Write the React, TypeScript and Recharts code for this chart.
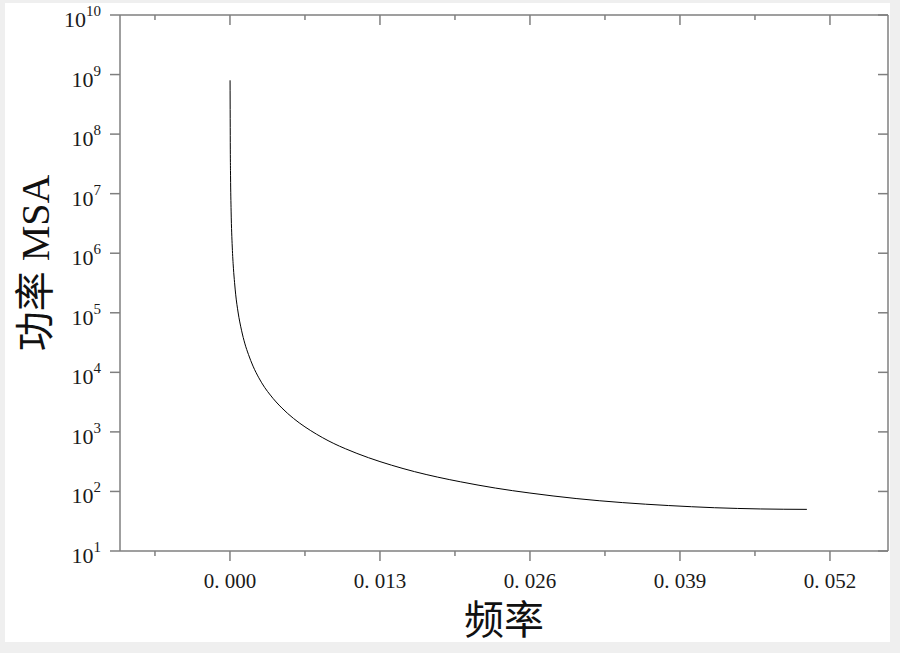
import React from "react";
import { LineChart, Line, XAxis, YAxis } from "recharts";

// frequency / MSA power
const freq = [
  0.00001, 0.00003, 0.00005, 0.0001, 0.0002, 0.0003, 0.0004, 0.0005, 0.0007, 0.001,
  0.0013, 0.0016, 0.002, 0.0025, 0.003, 0.0035, 0.004, 0.0045, 0.005, 0.006,
  0.007, 0.008, 0.009, 0.01, 0.012, 0.014, 0.016, 0.018, 0.02, 0.023,
  0.026, 0.03, 0.034, 0.038, 0.042, 0.046, 0.05,
];
const msa = [
  8.0e8, 5.6e7, 2.0e7, 5.1e6, 1.27e6, 5.6e5, 3.2e5, 2.0e5, 1.03e5, 5.1e4,
  3.0e4, 2.0e4, 1.27e4, 8.1e3, 5.6e3, 4.15e3, 3.18e3, 2.52e3, 2.04e3, 1.42e3,
  1050, 805, 638, 522, 369, 276, 215, 174, 145, 114,
  94, 76, 65, 58, 53.3, 50.8, 50,
];

const xMajorTicks = [0, 0.013, 0.026, 0.039, 0.052];
const xMinorTicks = [-0.0065, 0.0065, 0.0195, 0.0325, 0.0455];
const yTicks = [1e1, 1e2, 1e3, 1e4, 1e5, 1e6, 1e7, 1e8, 1e9, 1e10];
const xDomain = [-0.00953, 0.05703];
const yDomain = [1e1, 1e10];

const data = freq.map((f, i) => ({ f, msa: msa[i] }));
const xAllTicks = [...xMinorTicks, ...xMajorTicks].sort((a, b) => a - b);

const AXIS = "#7f7f7f";
const SERIF = "'Liberation Serif', 'Times New Roman', serif";

const isMajor = (v: number) => xMajorTicks.some((m) => Math.abs(m - v) < 1e-9);

const BottomTick = (props: any) => {
  const { x, y, payload } = props;
  const major = isMajor(payload.value);
  return (
    <g>
      <line x1={x} x2={x} y1={y} y2={y + (major ? 10 : 5)} stroke={AXIS} strokeWidth={1.5} />
      {major && (
        <text x={x} y={y + 37} textAnchor="middle" fontSize={21} fill="#1a1a1a" fontFamily={SERIF}>
          {payload.value.toFixed(3).replace(".", ". ")}
        </text>
      )}
    </g>
  );
};

const TopTick = (props: any) => {
  const { x, y, payload } = props;
  const major = isMajor(payload.value);
  return <line x1={x} x2={x} y1={y} y2={y + (major ? 10 : 5)} stroke={AXIS} strokeWidth={1.5} />;
};

const LeftTick = (props: any) => {
  const { x, y, payload } = props;
  const exp = Math.round(Math.log10(payload.value));
  return (
    <g>
      <line x1={x - 10} x2={x} y1={y} y2={y} stroke={AXIS} strokeWidth={1.5} />
      <text x={x - 19} y={y + 12} textAnchor="end" fontSize={22} fill="#1a1a1a" fontFamily={SERIF}>
        10
        <tspan fontSize={15} dy={-11}>{exp}</tspan>
      </text>
    </g>
  );
};

const RightTick = (props: any) => {
  const { x, y } = props;
  return <line x1={x - 10} x2={x} y1={y} y2={y} stroke={AXIS} strokeWidth={1.5} />;
};

export default function App() {
  return (
    <div style={{ position: "absolute", left: 0, top: 0, width: 900, height: 653, background: "#efefef" }}>
      <div style={{ position: "absolute", left: 5, top: 3, width: 885, height: 639, background: "#fff" }} />
      <div style={{ position: "absolute", left: 0, top: 0 }}>
        <LineChart width={900} height={653} data={data} margin={{ top: 14, right: 11, bottom: 101, left: 119 }}>
          <XAxis
            xAxisId="bottom"
            dataKey="f"
            type="number"
            domain={xDomain}
            allowDataOverflow
            ticks={xAllTicks}
            interval={0}
            height={1}
            tickSize={0}
            tickMargin={0}
            tickLine={false}
            axisLine={{ stroke: AXIS, strokeWidth: 1.5 }}
            tick={BottomTick}
          />
          <XAxis
            xAxisId="top"
            orientation="top"
            dataKey="f"
            type="number"
            domain={xDomain}
            allowDataOverflow
            ticks={xAllTicks}
            interval={0}
            height={1}
            tickSize={0}
            tickMargin={0}
            tickLine={false}
            axisLine={{ stroke: AXIS, strokeWidth: 1.5 }}
            tick={TopTick}
          />
          <YAxis
            yAxisId="left"
            scale="log"
            type="number"
            domain={yDomain}
            allowDataOverflow
            ticks={yTicks}
            interval={0}
            width={1}
            tickSize={0}
            tickMargin={0}
            tickLine={false}
            axisLine={{ stroke: AXIS, strokeWidth: 1.5 }}
            tick={LeftTick}
          />
          <YAxis
            yAxisId="right"
            orientation="right"
            scale="log"
            type="number"
            domain={yDomain}
            allowDataOverflow
            ticks={yTicks}
            interval={0}
            width={1}
            tickSize={0}
            tickMargin={0}
            tickLine={false}
            axisLine={{ stroke: AXIS, strokeWidth: 1.5 }}
            tick={RightTick}
          />
          <Line
            xAxisId="top"
            yAxisId="right"
            dataKey="msa"
            stroke="none"
            dot={false}
            activeDot={false}
            legendType="none"
            isAnimationActive={false}
          />
          <Line
            xAxisId="bottom"
            yAxisId="left"
            dataKey="msa"
            type="monotone"
            stroke="#000"
            strokeWidth={1}
            dot={false}
            isAnimationActive={false}
          />
        </LineChart>
      </div>
      <div
        style={{
          position: "absolute",
          left: 32,
          top: 263,
          transform: "translate(-50%, -50%) rotate(-90deg)",
          whiteSpace: "nowrap",
          fontFamily: `${SERIF}, 'Noto Sans CJK SC'`,
          fontSize: 40,
          color: "#111",
        }}
      >
        功率 MSA
      </div>
      <div
        style={{
          position: "absolute",
          left: 504,
          top: 617,
          transform: "translate(-50%, -50%)",
          whiteSpace: "nowrap",
          fontFamily: `${SERIF}, 'Noto Sans CJK SC'`,
          fontSize: 40,
          color: "#111",
        }}
      >
        频率
      </div>
    </div>
  );
}
